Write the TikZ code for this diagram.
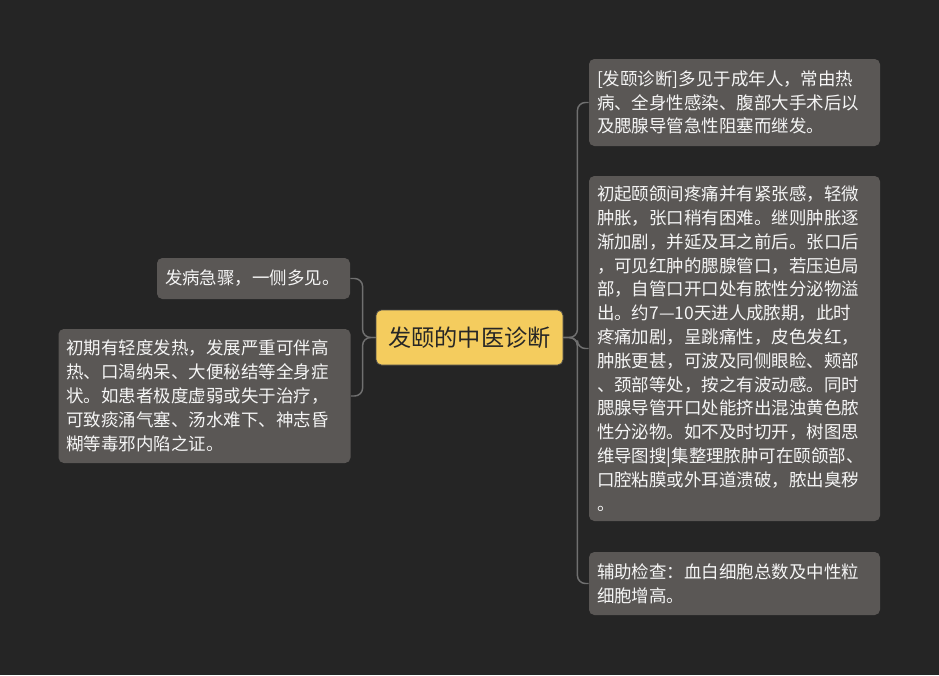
\documentclass[tikz,border=0pt]{standalone}
\usepackage{fontspec}
\newfontfamily\cjk{Noto Sans CJK SC}
\definecolor{bgdark}{HTML}{252525}
\definecolor{boxgrey}{HTML}{5A5755}
\definecolor{linkgrey}{HTML}{707070}
\definecolor{topicyellow}{HTML}{F4CC5E}
\definecolor{leaftext}{HTML}{F5F5F5}

\begin{document}
\begin{tikzpicture}
  [x=0.75pt, y=-0.75pt,
   topic/.style={fill=topicyellow, draw=black!70, line width=0.6pt, rounded corners=4pt,
     minimum width=140.25pt, minimum height=41.25pt, inner sep=0pt,
     font=\cjk\fontsize{17.4pt}{20pt}\selectfont, text=black!85},
   leaf/.style={fill=boxgrey, rounded corners=4pt, inner xsep=6pt, inner ysep=0pt,
     align=left, text=leaftext, font=\cjk\fontsize{13.1pt}{17.85pt}\selectfont},
   link/.style={draw=linkgrey, line width=1.1pt, rounded corners=6pt}]
  \fill[bgdark] (0,0) rectangle (939,675);

  \node [name=main, topic] at (469.5,337.5) {发颐的中医诊断};

  \node [name=cause, leaf, text width=206.25pt, minimum height=65.25pt] at (734.5,102.5)
    {[发颐诊断]多见于成年人，常由热\\病、全身性感染、腹部大手术后以\\及腮腺导管急性阻塞而继发。};
  \node [name=signs, leaf, text width=206.25pt, minimum height=258.75pt] at (734.5,348.5)
    {初起颐颌间疼痛并有紧张感，轻微\\肿胀，张口稍有困难。继则肿胀逐\\渐加剧，并延及耳之前后。张口后\\，可见红肿的腮腺管口，若压迫局\\部，自管口开口处有脓性分泌物溢\\出。约7—10天进人成脓期，此时\\疼痛加剧，呈跳痛性，皮色发红，\\肿胀更甚，可波及同侧眼睑、颊部\\、颈部等处，按之有波动感。同时\\腮腺导管开口处能挤出混浊黄色脓\\性分泌物。如不及时切开，树图思\\维导图搜|集整理脓肿可在颐颌部、\\口腔粘膜或外耳道溃破，脓出臭秽\\。};
  \node [name=exam, leaf, text width=206.25pt, minimum height=47.25pt] at (734.5,583.5)
    {辅助检查：血白细胞总数及中性粒\\细胞增高。};

  \node [name=onset, leaf, text width=132.75pt, minimum height=30.75pt] at (253.5,278.5)
    {发病急骤，一侧多见。};
  \node [name=systemic, leaf, text width=207pt, minimum height=100.5pt] at (204.5,396)
    {初期有轻度发热，发展严重可伴高\\热、口渴纳呆、大便秘结等全身症\\状。如患者极度虚弱或失于治疗，\\可致痰涌气塞、汤水难下、神志昏\\糊等毒邪内陷之证。};

  % right side
  \draw [link] (main.east) -- ++(14,0) |- (cause.west);
  \draw [link] (main.east) -- ++(14,0) |- (signs.west);
  \draw [link] (main.east) -- ++(14,0) |- (exam.west);
  % left side
  \draw [link] (main.west) -- ++(-13,0) |- (onset.east);
  \draw [link] (main.west) -- ++(-13,0) |- (systemic.east);
\end{tikzpicture}
\end{document}
